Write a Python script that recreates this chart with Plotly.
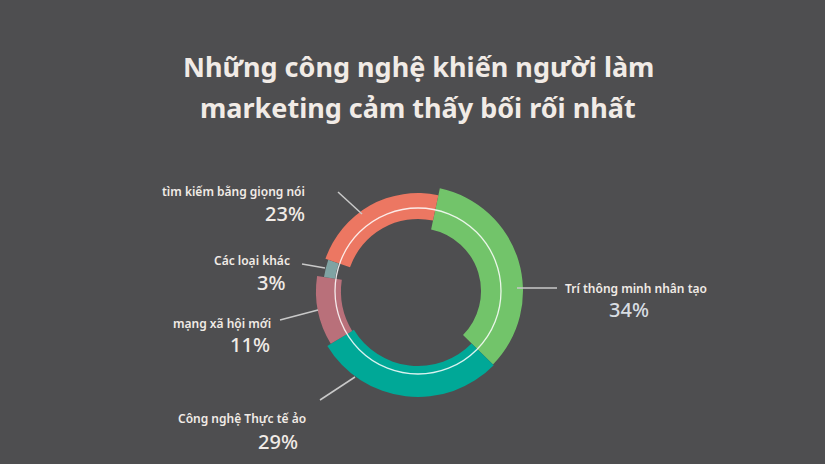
import plotly.graph_objects as go

W, H = 825, 464

# ---- data ----
categories = ["Trí thông minh nhân tạo", "Công nghệ Thực tế ảo", "mạng xã hội mới",
              "Các loại khác", "tìm kiếm bằng giọng nói"]
values = [34, 29, 11, 3, 23]
pct_labels = ["34%", "29%", "11%", "3%", "23%"]
colors = ["#72c46a", "#00a897", "#b9707a", "#7fa3a3", "#ec7762"]
inner_r = [63, 75, 77, 84, 72]
outer_r = [105, 106, 102, 95, 98]

start_angle = 12  # degrees clockwise from top

# ---- geometry (pixels) ----
cx, cy = 418, 291
R = 115

def px(x):
    return x / W

def py(y):
    return 1 - y / H

theta, widths = [], []
acc = start_angle
for v in values:
    w = v * 3.6
    theta.append(acc + w / 2)
    widths.append(w)
    acc += w

fig = go.Figure()
fig.add_trace(go.Barpolar(
    theta=theta,
    width=widths,
    base=inner_r,
    r=[o - i for o, i in zip(outer_r, inner_r)],
    marker=dict(color=colors, line=dict(width=0)),
    hoverinfo="skip",
))

fig.update_layout(
    width=W, height=H,
    margin=dict(l=0, r=0, t=0, b=0),
    paper_bgcolor="#4e4e50",
    plot_bgcolor="#4e4e50",
    showlegend=False,
    polar=dict(
        domain=dict(x=[px(cx - R), px(cx + R)], y=[py(cy + R), py(cy - R)]),
        bgcolor="rgba(0,0,0,0)",
        radialaxis=dict(range=[0, R], visible=False),
        angularaxis=dict(rotation=90, direction="clockwise", visible=False),
        barmode="overlay",
    ),
)

# thin white circle through the ring
rc = 83
fig.add_shape(type="circle", xref="paper", yref="paper",
              x0=px(cx - rc), x1=px(cx + rc), y0=py(cy + rc), y1=py(cy - rc),
              line=dict(color="rgba(255,255,255,0.85)", width=1.3), layer="above")

# leader lines
leaders = [
    (517, 288, 557, 288),
    (355, 377, 320, 400),
    (318, 310, 280, 320),
    (325, 268, 302, 264),
    (362, 214, 338, 192),
]
for x0, y0, x1, y1 in leaders:
    fig.add_shape(type="line", xref="paper", yref="paper",
                  x0=px(x0), y0=py(y0), x1=px(x1), y1=py(y1),
                  line=dict(color="#c9c9c9", width=1.5))

txt = "#f1ebe6"
FONT = "Noto Sans"

# title
title_lines = ["Những công nghệ khiến người làm", "marketing cảm thấy bối rối nhất"]
for line, yy in zip(title_lines, [67, 107]):
    fig.add_annotation(text=line, xref="paper", yref="paper", x=px(418), y=py(yy),
                       xanchor="center", yanchor="middle", showarrow=False,
                       font=dict(family=FONT, size=27, color=txt, weight="bold"))

# category labels: (x, y, anchor) and percent positions
name_pos = [(563, 288, "left"), (308, 418, "right"), (273, 323, "right"),
            (292, 260, "right"), (307, 192, "right")]
pct_pos = [(629, 309, "center"), (300, 441, "right"), (272, 344, "right"),
           (287, 282, "right"), (307, 213, "right")]
pct_colors = ["#d8dde2", txt, txt, txt, txt]

for name, (x, y, a) in zip(categories, name_pos):
    fig.add_annotation(text=name, xref="paper", yref="paper", x=px(x), y=py(y),
                       xanchor=a, yanchor="middle", showarrow=False,
                       font=dict(family=FONT, size=12, color=txt, weight=600))
for p, (x, y, a), c in zip(pct_labels, pct_pos, pct_colors):
    fig.add_annotation(text=p, xref="paper", yref="paper", x=px(x), y=py(y),
                       xanchor=a, yanchor="middle", showarrow=False,
                       font=dict(family=FONT, size=20, color=c, weight=500))

fig.write_html("out.html")
